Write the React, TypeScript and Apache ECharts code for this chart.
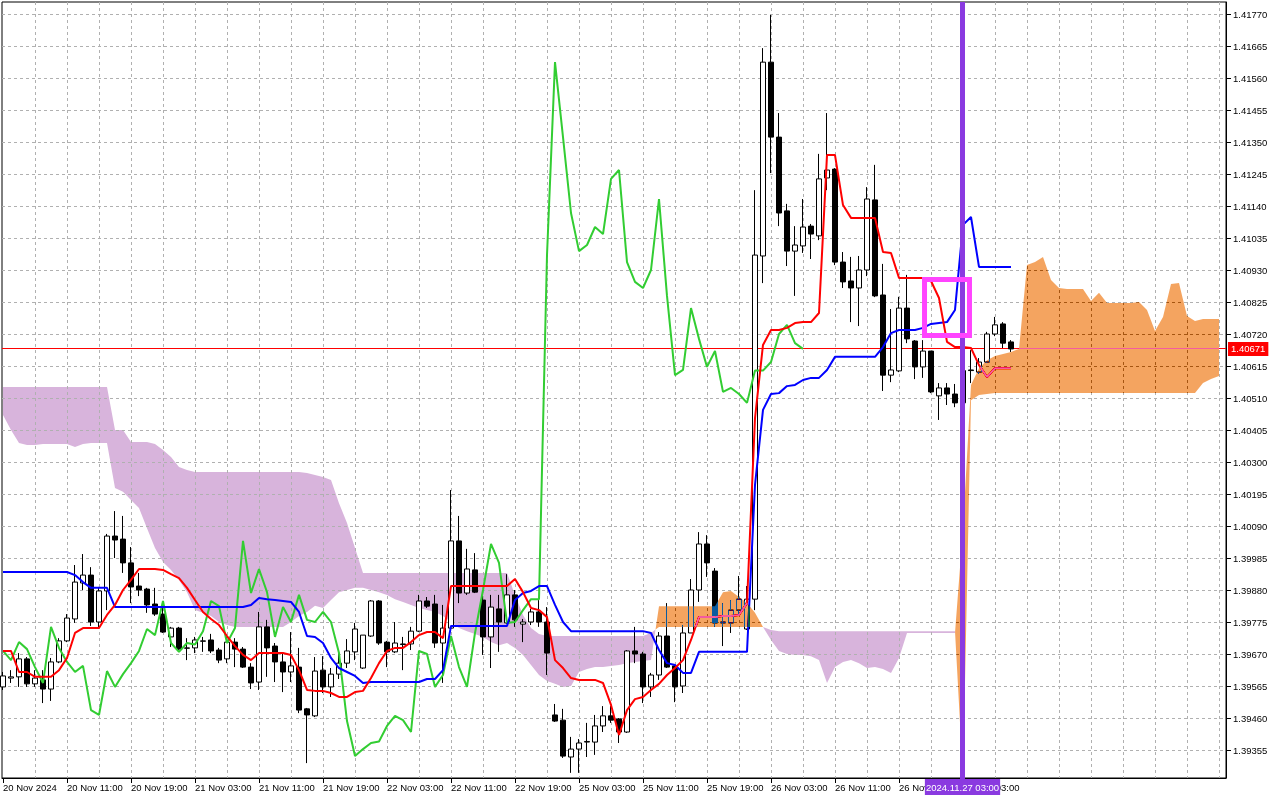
import React, { useEffect, useRef } from "react";
import * as echarts from "echarts";

// ---------- data (hourly chart, Nov 2024) ----------
const xLabels = [
  "20 Nov 2024", "20 Nov 11:00", "20 Nov 19:00", "21 Nov 03:00", "21 Nov 11:00", "21 Nov 19:00",
  "22 Nov 03:00", "22 Nov 11:00", "22 Nov 19:00", "25 Nov 03:00", "25 Nov 11:00", "25 Nov 19:00",
  "26 Nov 03:00", "26 Nov 11:00", "26 Nov 19:00", "27 Nov 03:00",
];
const xLabelBars = [0, 8, 16, 24, 32, 40, 48, 56, 64, 72, 80, 88, 96, 104, 112, 120];
const gridBars = [4, 8, 12, 16, 20, 24, 28, 32, 36, 40, 44, 48, 52, 56, 60, 64, 68, 72, 76, 80,
  84, 88, 92, 96, 100, 104, 108, 112, 116, 120, 124, 128, 132, 136, 140, 144, 148, 152];
const yTicks = [1.39355, 1.3946, 1.39565, 1.3967, 1.39775, 1.3988, 1.39985, 1.4009, 1.40195, 1.403,
  1.40405, 1.4051, 1.40615, 1.4072, 1.40825, 1.4093, 1.41035, 1.4114, 1.41245, 1.4135, 1.41455,
  1.4156, 1.41665, 1.4177];

const opens = [
  1.39562, 1.39591, 1.39595, 1.39654, 1.39572, 1.39585, 1.39555, 1.39644, 1.39713, 1.39785,
  1.39903, 1.39929, 1.39775, 1.39877, 1.40057, 1.40047, 1.39969, 1.39893, 1.39883, 1.39834,
  1.39801, 1.39726, 1.39755, 1.3969, 1.3969, 1.39713, 1.39716, 1.39683, 1.39654, 1.39709,
  1.39686, 1.39627, 1.39578, 1.39759, 1.39696, 1.39644, 1.39611, 1.39627, 1.3949, 1.39467,
  1.39617, 1.39562, 1.39604, 1.3964, 1.39677, 1.39624, 1.39729, 1.39844, 1.39709, 1.39677,
  1.39703, 1.39703, 1.39745, 1.39844, 1.39834, 1.39706, 1.39755, 1.40041, 1.3987, 1.39946,
  1.39847, 1.39726, 1.39818, 1.39772, 1.39864, 1.39768, 1.39775, 1.39808, 1.39775, 1.3947,
  1.39453, 1.39332, 1.39358, 1.39381, 1.39381, 1.39434, 1.39467, 1.39457, 1.39414, 1.3968,
  1.3967, 1.39562, 1.39601, 1.39729, 1.39631, 1.39565, 1.39739, 1.3988, 1.40031, 1.39942,
  1.39772, 1.39772, 1.39814, 1.39752, 1.3985, 1.40976, 1.41612, 1.41366, 1.41124, 1.40992,
  1.41009, 1.41074, 1.41042, 1.41232, 1.41261, 1.40956, 1.40894, 1.40871, 1.4093, 1.4116,
  1.40848, 1.40585, 1.40599, 1.40805, 1.40697, 1.40612, 1.40664, 1.40517, 1.40543, 1.40523,
  1.40494, 1.40602, 1.40595, 1.40628, 1.4072, 1.40753, 1.40694,
];
const highs = [
  1.39611, 1.39617, 1.39673, 1.3966, 1.39617, 1.39617, 1.39657, 1.39722, 1.39801, 1.39962,
  1.39998, 1.39955, 1.3989, 1.40064, 1.40139, 1.40123, 1.40021, 1.39936, 1.39887, 1.39887,
  1.39831, 1.39759, 1.39759, 1.39722, 1.39726, 1.39726, 1.39736, 1.3969, 1.39726, 1.39722,
  1.39693, 1.3964, 1.39808, 1.39782, 1.39706, 1.39673, 1.39742, 1.3969, 1.39493, 1.3966,
  1.39663, 1.39624, 1.39673, 1.39719, 1.39772, 1.39732, 1.39847, 1.39847, 1.39713, 1.39775,
  1.39726, 1.39759, 1.39864, 1.39857, 1.39864, 1.39831, 1.40208, 1.40123, 1.40015, 1.40001,
  1.39864, 1.39864, 1.39864, 1.39932, 1.3988, 1.39785, 1.39818, 1.39847, 1.39824, 1.39506,
  1.3949, 1.39398, 1.39391, 1.39444, 1.3947, 1.39499, 1.39499, 1.3946, 1.39683, 1.39759,
  1.39677, 1.39608, 1.39742, 1.39837, 1.39634, 1.39765, 1.39916, 1.4007, 1.4006, 1.39952,
  1.39837, 1.39847, 1.39926, 1.39893, 1.41192, 1.41658, 1.41767, 1.41445, 1.41147, 1.41074,
  1.41163, 1.41081, 1.41311, 1.41445, 1.41264, 1.40989, 1.40973, 1.40976, 1.41202, 1.41275,
  1.4095, 1.40802, 1.40842, 1.40914, 1.407, 1.407, 1.40664, 1.40559, 1.40559, 1.40556,
  1.40625, 1.40667, 1.40641, 1.40727, 1.40776, 1.40759, 1.407,
];
const lows = [
  1.39552, 1.39575, 1.39562, 1.39562, 1.39562, 1.39509, 1.39516, 1.3964, 1.39709, 1.39772,
  1.3988, 1.39762, 1.39755, 1.39814, 1.39985, 1.39936, 1.39837, 1.3986, 1.39805, 1.39795,
  1.39739, 1.39693, 1.39683, 1.3965, 1.39673, 1.39677, 1.39673, 1.3964, 1.3964, 1.39627,
  1.39624, 1.39555, 1.39552, 1.39595, 1.39578, 1.39545, 1.39578, 1.39476, 1.39312, 1.39463,
  1.39542, 1.39529, 1.39588, 1.39624, 1.3965, 1.39621, 1.39726, 1.397, 1.39627, 1.39673,
  1.39617, 1.39683, 1.39742, 1.39821, 1.3969, 1.39575, 1.39742, 1.39837, 1.39864, 1.3987,
  1.39667, 1.39624, 1.39677, 1.39768, 1.39759, 1.39709, 1.39765, 1.39759, 1.39601, 1.39447,
  1.39329, 1.3928, 1.3928, 1.39332, 1.39339, 1.39414, 1.39444, 1.39378, 1.39411, 1.3964,
  1.39509, 1.39529, 1.39585, 1.39624, 1.39512, 1.39542, 1.39739, 1.39841, 1.39923, 1.39759,
  1.39696, 1.39739, 1.39798, 1.39749, 1.39814, 1.40887, 1.41248, 1.41074, 1.40943, 1.40845,
  1.40986, 1.40966, 1.41028, 1.41192, 1.40946, 1.40871, 1.40759, 1.40746, 1.4091, 1.40841,
  1.40533, 1.40562, 1.40595, 1.4069, 1.40572, 1.40576, 1.40526, 1.40438, 1.40487, 1.4048,
  1.4047, 1.40559, 1.40589, 1.40625, 1.40713, 1.40674, 1.40661,
];
const closes = [
  1.39598, 1.39595, 1.39654, 1.39572, 1.39591, 1.39555, 1.39644, 1.39713, 1.39788, 1.39906,
  1.39929, 1.39775, 1.39877, 1.40057, 1.40044, 1.39969, 1.3989, 1.3988, 1.39831, 1.39801,
  1.39742, 1.39755, 1.39686, 1.39689, 1.39716, 1.39712, 1.3968, 1.3965, 1.39709, 1.39686,
  1.39627, 1.39575, 1.39759, 1.3969, 1.39644, 1.39611, 1.39631, 1.39486, 1.3947, 1.39614,
  1.39562, 1.39604, 1.3964, 1.3968, 1.39752, 1.39732, 1.39844, 1.39706, 1.39677, 1.39706,
  1.39701, 1.39745, 1.39844, 1.39827, 1.39706, 1.39755, 1.40041, 1.3987, 1.39949, 1.39873,
  1.39726, 1.39824, 1.39775, 1.39864, 1.39782, 1.39775, 1.39808, 1.39775, 1.39673, 1.3945,
  1.39335, 1.39358, 1.39378, 1.39383, 1.39434, 1.39467, 1.39453, 1.39414, 1.3968, 1.3967,
  1.39562, 1.39601, 1.39729, 1.39627, 1.39562, 1.39739, 1.3988, 1.40031, 1.39969, 1.39772,
  1.39775, 1.39814, 1.3985, 1.3985, 1.40979, 1.41612, 1.41366, 1.41117, 1.40992, 1.41012,
  1.41071, 1.41048, 1.41229, 1.41258, 1.40956, 1.40891, 1.40871, 1.4093, 1.41163, 1.40845,
  1.40585, 1.40602, 1.40805, 1.40704, 1.40612, 1.40664, 1.4053, 1.40543, 1.40523, 1.40494,
  1.406, 1.406, 1.40628, 1.4072, 1.4075, 1.4069, 1.40671,
];

// Tenkan-sen (red)
const tenkan = [
  1.3968, 1.3968, 1.39611, 1.39611, 1.39595, 1.39595, 1.39595, 1.39617, 1.39657, 1.39739,
  1.39755, 1.39755, 1.39755, 1.39798, 1.39831, 1.3988, 1.39913, 1.39949, 1.39949, 1.39949,
  1.39946, 1.39932, 1.39919, 1.39887, 1.39847, 1.39808, 1.39785, 1.39765, 1.39729, 1.39696,
  1.39667, 1.3965, 1.39673, 1.39673, 1.39673, 1.39673, 1.39667, 1.39617, 1.39552, 1.39549,
  1.39549, 1.39542, 1.39529, 1.39529, 1.39545, 1.39549, 1.39591, 1.3964, 1.3968, 1.3969,
  1.3969, 1.39709, 1.39732, 1.39742, 1.39742, 1.39722, 1.39893, 1.39893, 1.39893, 1.39893,
  1.39893, 1.39893, 1.39893, 1.39893, 1.39916, 1.39873, 1.39821, 1.39814, 1.39791, 1.3965,
  1.39624, 1.39591, 1.39585, 1.39585, 1.39585, 1.39575, 1.39503, 1.39404, 1.39486, 1.39522,
  1.39529, 1.39552, 1.39572, 1.39601, 1.39624, 1.3965, 1.39716, 1.39791, 1.39791, 1.39791,
  1.39795, 1.39795, 1.39798, 1.39837, 1.40444, 1.40684, 1.40733, 1.40733, 1.4074, 1.40756,
  1.40759, 1.40759, 1.40789, 1.41307, 1.41307, 1.41143, 1.41101, 1.41101, 1.41101, 1.41101,
  1.40989, 1.40986, 1.40904, 1.40904, 1.40904, 1.40904, 1.40894, 1.40838, 1.40694, 1.40677,
  1.40677, 1.40674, 1.40618, 1.40579, 1.40608, 1.40608, 1.40608,
];
// Kijun-sen (blue)
const kijun = [
  1.39939, 1.39939, 1.39939, 1.39939, 1.39939, 1.39939, 1.39939, 1.39939, 1.39939, 1.39929,
  1.39906, 1.39887, 1.39887, 1.39887, 1.39824, 1.39824, 1.39824, 1.39824, 1.39824, 1.39824,
  1.39824, 1.39824, 1.39824, 1.39824, 1.39824, 1.39824, 1.39824, 1.39824, 1.39824, 1.39824,
  1.39824, 1.39831, 1.39854, 1.3985, 1.39847, 1.39844, 1.39841, 1.39808, 1.39729, 1.39726,
  1.39706, 1.39657, 1.39624, 1.39611, 1.39598, 1.39575, 1.39578, 1.39578, 1.39578, 1.39578,
  1.39578, 1.39578, 1.39578, 1.39588, 1.39588, 1.39617, 1.39762, 1.39762, 1.39762, 1.39762,
  1.39762, 1.39762, 1.39762, 1.39762, 1.39847, 1.3987, 1.39877, 1.39893, 1.39893, 1.39831,
  1.39775, 1.39745, 1.39745, 1.39745, 1.39745, 1.39745, 1.39745, 1.39745, 1.39745, 1.39745,
  1.39745, 1.39739, 1.39683, 1.3964, 1.39634, 1.39608, 1.39608, 1.39677, 1.39677, 1.39677,
  1.39677, 1.39677, 1.39677, 1.39677, 1.40225, 1.40471, 1.40523, 1.40526, 1.40549, 1.40553,
  1.40569, 1.40576, 1.40576, 1.40602, 1.40645, 1.40645, 1.40645, 1.40645, 1.40645, 1.40645,
  1.40677, 1.40723, 1.40733, 1.40733, 1.40733, 1.4074, 1.40753, 1.40756, 1.40759, 1.40799,
  1.41078, 1.41104, 1.4094, 1.4094, 1.4094, 1.4094, 1.4094,
];
// Chikou span (green), plotted 26 bars back
const chikou = [
  1.3968, 1.3965, 1.39709, 1.39686, 1.39627, 1.39575, 1.39759, 1.3969, 1.39644, 1.39611,
  1.39631, 1.39486, 1.3947, 1.39614, 1.39562, 1.39604, 1.3964, 1.3968, 1.39752, 1.39732,
  1.39844, 1.39706, 1.39677, 1.39706, 1.39701, 1.39745, 1.39844, 1.39827, 1.39706, 1.39755,
  1.40041, 1.3987, 1.39949, 1.39873, 1.39726, 1.39824, 1.39775, 1.39864, 1.39782, 1.39775,
  1.39808, 1.39775, 1.39673, 1.3945, 1.39335, 1.39358, 1.39378, 1.39383, 1.39434, 1.39467,
  1.39453, 1.39414, 1.3968, 1.3967, 1.39562, 1.39601, 1.39729, 1.39627, 1.39562, 1.39739,
  1.3988, 1.40031, 1.39969, 1.39772, 1.39775, 1.39814, 1.3985, 1.3985, 1.40979, 1.41612,
  1.41366, 1.41117, 1.40992, 1.41012, 1.41071, 1.41048, 1.41229, 1.41258, 1.40956, 1.40891,
  1.40871, 1.4093, 1.41163, 1.40845, 1.40585, 1.40602, 1.40805, 1.40704, 1.40612, 1.40664,
  1.4053, 1.40543, 1.40523, 1.40494, 1.406, 1.406, 1.40628, 1.4072, 1.4075, 1.4069,
  1.40671,
];
// Senkou span A and B (cloud), 26 bars into the future
const spanA = [
  1.40454, 1.40405, 1.40362, 1.40356, 1.40356, 1.40359, 1.40359, 1.40359, 1.40359, 1.40349,
  1.40359, 1.40362, 1.40362, 1.40362, 1.40215, 1.40202, 1.40175, 1.40149, 1.40083, 1.40018,
  1.39972, 1.39946, 1.39913, 1.39873, 1.39814, 1.39805, 1.39795, 1.39775, 1.39765, 1.39759,
  1.39759, 1.39759, 1.39759, 1.39759, 1.39759, 1.39759, 1.39775, 1.39795, 1.39808, 1.39828,
  1.39821, 1.39847, 1.39873, 1.3988, 1.39887, 1.39887, 1.3988, 1.39873, 1.39864, 1.3985,
  1.39841, 1.39831, 1.39821, 1.39814, 1.39808, 1.39795, 1.39775, 1.39755, 1.39745, 1.39736,
  1.39726, 1.39709, 1.39699, 1.39706, 1.3969, 1.39667, 1.39634, 1.39601, 1.39581, 1.39572,
  1.39562, 1.39565, 1.39611, 1.39621, 1.39627, 1.39627, 1.39631, 1.39634, 1.3964, 1.39644,
  1.39647, 1.3965, 1.39827, 1.39827, 1.39827, 1.39827, 1.39827, 1.39827, 1.39827, 1.39827,
  1.39873, 1.39877, 1.39857, 1.39837, 1.39805, 1.39759, 1.39716, 1.3968, 1.3967, 1.39667,
  1.39667, 1.39663, 1.3965, 1.39575, 1.39627, 1.39644, 1.3965, 1.3964, 1.39624, 1.39627,
  1.39621, 1.39608, 1.39657, 1.39739, 1.39739, 1.39739, 1.39739, 1.39739, 1.39739, 1.39739,
  1.40083, 1.40553, 1.40608, 1.40634, 1.40648, 1.40654, 1.40661, 1.40671, 1.40946, 1.40956,
  1.40973, 1.40897, 1.40871, 1.40868, 1.40868, 1.40868, 1.40828, 1.40855, 1.40822, 1.40822,
  1.40822, 1.40822, 1.40825, 1.40799, 1.4073, 1.40776, 1.40884, 1.40887, 1.40779, 1.40763,
  1.40769, 1.40769, 1.40769,
];
const spanB = [
  1.40546, 1.40546, 1.40546, 1.40546, 1.40546, 1.40546, 1.40546, 1.40546, 1.40546, 1.40546,
  1.40546, 1.40546, 1.40546, 1.40546, 1.40405, 1.40405, 1.40366, 1.40366, 1.40366, 1.40359,
  1.40339, 1.40316, 1.40284, 1.40274, 1.40267, 1.40267, 1.40267, 1.40267, 1.40267, 1.40267,
  1.40267, 1.40267, 1.40267, 1.40267, 1.40267, 1.40267, 1.40267, 1.40267, 1.40264, 1.40257,
  1.40251, 1.40241, 1.40165, 1.401, 1.40018, 1.39936, 1.39936, 1.39936, 1.39936, 1.39936,
  1.39936, 1.39936, 1.39936, 1.39936, 1.39936, 1.39936, 1.39936, 1.39936, 1.39936, 1.39936,
  1.39936, 1.39936, 1.39936, 1.39936, 1.39864, 1.39798, 1.39755, 1.39736, 1.39729, 1.39729,
  1.39729, 1.39729, 1.39729, 1.39729, 1.39729, 1.39729, 1.39729, 1.39729, 1.39729, 1.39729,
  1.39729, 1.39739, 1.39759, 1.39759, 1.39759, 1.39759, 1.39759, 1.39759, 1.39759, 1.39759,
  1.39759, 1.39759, 1.39759, 1.39759, 1.39759, 1.39759, 1.39749, 1.39745, 1.39745, 1.39745,
  1.39745, 1.39745, 1.39745, 1.39745, 1.39745, 1.39745, 1.39745, 1.39745, 1.39745, 1.39745,
  1.39745, 1.39745, 1.39745, 1.39745, 1.39745, 1.39745, 1.39745, 1.39745, 1.39745, 1.39745,
  1.39265, 1.40503, 1.4052, 1.40523, 1.40526, 1.40526, 1.40526, 1.40526, 1.40526, 1.40526,
  1.40526, 1.40526, 1.40526, 1.40526, 1.40526, 1.40526, 1.40526, 1.40526, 1.40526, 1.40526,
  1.40526, 1.40526, 1.40526, 1.40526, 1.40526, 1.40526, 1.40526, 1.40526, 1.40526, 1.40526,
  1.40559, 1.40572, 1.40582,
];

const markerBar = 120;
const markerLabel = "2024.11.27 03:00";
const boxCorners = [115.19, 1.40899, 120.81, 1.40715];

// ---------- styling ----------
const FONT = '"Liberation Sans", Arial, sans-serif';
const FONT_SIZE = 9.5;
const GRID_COLOR = "#b0b0b0";
const LILAC = "#d8b4dc";
const ORANGE = "#f4a460";
const ORANGE_SRC = "#0b5b9f"; // drawn with difference blend -> sandy brown on white
const PURPLE = "#8a3ae0";
const MAGENTA = "#ff44ff";

const X_MIN = -0.125;
const X_MAX = 152.875;
const Y_MIN = 1.39263125;
const Y_MAX = 1.41809375;

type Region = { bull: boolean; upper: number[][]; lower: number[][] };

function cloudRegions(): Region[] {
  const regions: Region[] = [];
  let cur: Region | null = null;
  for (let i = 0; i < spanA.length; i++) {
    const a = spanA[i];
    const b = spanB[i];
    const bull = a >= b;
    if (!cur) {
      cur = { bull, upper: [[i, a]], lower: [[i, b]] };
      continue;
    }
    if (bull === cur.bull) {
      cur.upper.push([i, a]);
      cur.lower.push([i, b]);
      continue;
    }
    const a0 = spanA[i - 1];
    const b0 = spanB[i - 1];
    const d0 = a0 - b0;
    const d1 = a - b;
    const t = d0 / (d0 - d1);
    const xc = i - 1 + t;
    const yc = a0 + (a - a0) * t;
    cur.upper.push([xc, yc]);
    cur.lower.push([xc, yc]);
    regions.push(cur);
    cur = { bull, upper: [[xc, yc], [i, a]], lower: [[xc, yc], [i, b]] };
  }
  if (cur) regions.push(cur);
  return regions;
}

function cloudSeries(bull: boolean, z: number, fill: string) {
  const regions = cloudRegions().filter((r) => r.bull === bull);
  return {
    type: "custom",
    z,
    silent: true,
    clip: false,
    encode: { x: 0, y: 1 },
    data: [[0, spanA[0]]],
    renderItem: (params: any, api: any) => {
      const children = regions.map((r) => ({
        type: "polygon",
        silent: true,
        shape: {
          points: [...r.upper, ...r.lower.slice().reverse()].map((p) => api.coord(p)),
        },
        style: { fill, stroke: null, lineWidth: 0 },
      }));
      return { type: "group", children };
    },
  };
}

function buildOption(useBlend: boolean) {
  const lastPrice = closes[closes.length - 1];
  const candleData = opens.map((o, i) => [i, o, closes[i], lows[i], highs[i]]);
  const lineOf = (arr: number[]) => arr.map((v, i) => [i, v]);
  const textStyle = { color: "#000", fontSize: FONT_SIZE, fontFamily: FONT };

  return {
    animation: false,
    backgroundColor: "#ffffff",
    textStyle: { fontFamily: FONT },
    grid: {
      left: 2, top: 2, width: 1224, height: 776,
      show: true, borderColor: "#000", borderWidth: 1, backgroundColor: "transparent",
    },
    xAxis: {
      type: "value", min: X_MIN, max: X_MAX,
      axisLine: { show: true, onZero: false, lineStyle: { color: "#000", width: 1 } },
      axisTick: { show: true, customValues: xLabelBars, length: 5, lineStyle: { color: "#000" } },
      axisLabel: {
        show: true, customValues: xLabelBars, align: "left", margin: 4, ...textStyle,
        formatter: (v: number) => {
          const k = xLabelBars.indexOf(Math.round(v));
          return k >= 0 ? xLabels[k] : "";
        },
      },
      splitLine: { show: false },
    },
    yAxis: {
      type: "value", position: "right", min: Y_MIN, max: Y_MAX,
      axisLine: { show: true, onZero: false, lineStyle: { color: "#000", width: 1 } },
      axisTick: { show: true, customValues: yTicks, length: 5, lineStyle: { color: "#000" } },
      axisLabel: {
        show: true, customValues: yTicks, margin: 7, ...textStyle,
        formatter: (v: number) => v.toFixed(5),
      },
      splitLine: { show: false },
    },
    series: [
      cloudSeries(false, 1, LILAC),
      {
        type: "custom", z: 2, silent: true, encode: { x: 0, y: 1 },
        data: yTicks.map((v) => [0, v]),
        renderItem: (params: any, api: any) => {
          const cs = params.coordSys;
          const y = Math.round(api.coord([0, api.value(1)])[1]) + 0.5;
          return {
            type: "line", silent: true,
            shape: { x1: cs.x, y1: y, x2: cs.x + cs.width, y2: y },
            style: { stroke: GRID_COLOR, lineWidth: 1, lineDash: [3, 3] },
          };
        },
      },
      {
        type: "custom", z: 2, silent: true, encode: { x: 0, y: 1 },
        data: gridBars.map((b) => [b, yTicks[0]]),
        renderItem: (params: any, api: any) => {
          const cs = params.coordSys;
          const x = Math.round(api.coord([api.value(0), yTicks[0]])[0]) + 0.5;
          return {
            type: "line", silent: true,
            shape: { x1: x, y1: cs.y, x2: x, y2: cs.y + cs.height },
            style: { stroke: GRID_COLOR, lineWidth: 1, lineDash: [3, 3] },
          };
        },
      },
      {
        type: "custom", z: 3, silent: true, encode: { x: 0, y: 1 },
        data: [[closes.length - 1, lastPrice]],
        renderItem: (params: any, api: any) => {
          const cs = params.coordSys;
          const py = api.coord([api.value(0), api.value(1)])[1];
          const y = Math.round(py) - 0.5;
          return {
            type: "group",
            children: [
              {
                type: "line", silent: true,
                shape: { x1: cs.x, y1: y, x2: cs.x + cs.width, y2: y },
                style: { stroke: "#ff0000", lineWidth: 1 },
              },
              {
                type: "text", silent: true, x: cs.x + cs.width + 2, y: py,
                style: {
                  text: api.value(1).toFixed(5), fill: "#ffffff", backgroundColor: "#ff0000",
                  padding: [2, 3, 2, 3], align: "left", verticalAlign: "middle",
                  font: `${FONT_SIZE}px ${FONT}`,
                },
              },
            ],
          };
        },
      },
      {
        type: "candlestick", z: 4, silent: true, barWidth: 5,
        encode: { x: 0, y: [1, 2, 3, 4] },
        data: candleData,
        itemStyle: {
          color: "#ffffff", color0: "#000000", borderColor: "#000000",
          borderColor0: "#000000", borderColorDoji: "#000000", borderWidth: 1,
        },
      },
      {
        type: "line", z: 5, silent: true, symbol: "none", data: lineOf(chikou),
        lineStyle: { color: "#32cd32", width: 2 }, itemStyle: { color: "#32cd32" },
      },
      {
        type: "line", z: 5, silent: true, symbol: "none", data: lineOf(kijun),
        lineStyle: { color: "#0000ff", width: 2 }, itemStyle: { color: "#0000ff" },
      },
      {
        type: "line", z: 5, silent: true, symbol: "none", data: lineOf(tenkan),
        lineStyle: { color: "#ff0000", width: 2 }, itemStyle: { color: "#ff0000" },
      },
      useBlend ? cloudSeries(true, 6, ORANGE_SRC) : cloudSeries(true, 3, ORANGE),
      {
        type: "custom", z: 7, silent: true, encode: { x: 0, y: 1 },
        data: [[markerBar, lastPrice]],
        renderItem: (params: any, api: any) => {
          const cs = params.coordSys;
          const cx = api.coord([api.value(0), api.value(1)])[0];
          return {
            type: "group",
            children: [
              {
                type: "rect", silent: true,
                shape: { x: cx - 3, y: cs.y, width: 5, height: cs.height + 1 },
                style: { fill: PURPLE },
              },
              {
                type: "text", silent: true, x: cx - 0.5, y: cs.y + cs.height + 1,
                style: {
                  text: markerLabel, fill: "#ffffff", backgroundColor: PURPLE,
                  padding: [3, 1, 3, 1], align: "center", verticalAlign: "top",
                  font: `${FONT_SIZE}px ${FONT}`,
                },
              },
            ],
          };
        },
      },
      {
        type: "custom", z: 8, silent: true, encode: { x: [0, 2], y: [1, 3] },
        data: [boxCorners],
        renderItem: (params: any, api: any) => {
          const p0 = api.coord([api.value(0), api.value(1)]);
          const p1 = api.coord([api.value(2), api.value(3)]);
          return {
            type: "rect", silent: true,
            shape: { x: p0[0], y: p0[1], width: p1[0] - p0[0], height: p1[1] - p0[1] },
            style: { fill: "none", stroke: MAGENTA, lineWidth: 5 },
          };
        },
      },
    ],
  };
}

const blendCss = `
#ichimoku-chart path[fill="${ORANGE_SRC}"],
#ichimoku-chart path[fill="${ORANGE_SRC.toUpperCase()}"],
#ichimoku-chart path[fill="rgb(11,91,159)"] { mix-blend-mode: difference; }
`;

export default function App() {
  const ref = useRef<HTMLDivElement>(null);

  useEffect(() => {
    const el = ref.current;
    if (!el) return;
    const chart = echarts.init(el, undefined, { renderer: "svg" });
    chart.setOption(buildOption(true) as any);

    const ctx = document.createElement("canvas").getContext("2d");
    const norm = (c: string) => {
      if (!ctx) return c;
      ctx.fillStyle = "#000000";
      ctx.fillStyle = c;
      return String(ctx.fillStyle).toLowerCase();
    };
    const applyBlend = () => {
      el.querySelectorAll("path").forEach((p) => {
        const f = p.getAttribute("fill");
        if (f && norm(f) === ORANGE_SRC) {
          (p as any).style.mixBlendMode = "difference";
          // make sure no ancestor <g> isolates the blend
          let g = p.parentElement;
          while (g && g.tagName.toLowerCase() === "g") {
            if (g.getAttribute("clip-path")) g.removeAttribute("clip-path");
            g = g.parentElement;
          }
        }
      });
    };
    applyBlend();
    chart.on("finished", applyBlend);
    const raf = requestAnimationFrame(applyBlend);
    return () => {
      cancelAnimationFrame(raf);
      chart.dispose();
    };
  }, []);

  return (
    <>
      <style>{blendCss}</style>
      <div
        id="ichimoku-chart"
        ref={ref}
        style={{ position: "fixed", left: 0, top: 0, width: 1280, height: 800, background: "#fff" }}
      />
    </>
  );
}
